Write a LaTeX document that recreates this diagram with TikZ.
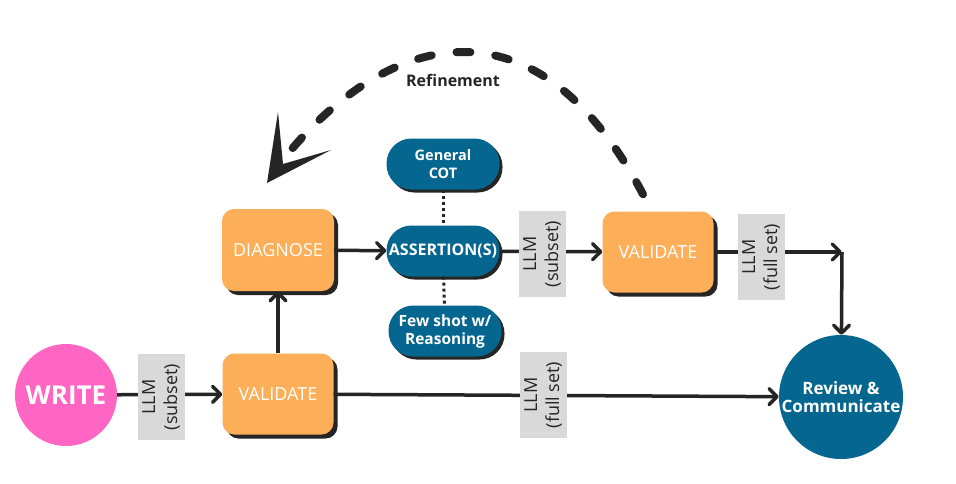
\documentclass[tikz,border=0pt]{standalone}
\usepackage{fontspec}
\setmainfont{Open Sans}
\usetikzlibrary{arrows.meta,shadows}
\definecolor{pnk}{HTML}{FF66C4}
\definecolor{orng}{HTML}{FCAF58}
\definecolor{blu}{HTML}{05668F}
\definecolor{dark}{HTML}{252525}
\definecolor{lgray}{HTML}{D9D9D9}
\begin{document}
\begin{tikzpicture}[x=1pt,y=-1pt,
  shd/.style={drop shadow={shadow xshift=4pt, shadow yshift=-4pt, fill=dark, opacity=1}},
  orangebox/.style={rectangle, rounded corners=12pt, fill=orng, minimum width=111pt, minimum height=81pt, inner sep=2pt, text=white, font=\fontsize{18}{21}\selectfont, shd},
  pill/.style={rectangle, rounded corners=25pt, fill=blu, minimum width=113pt, minimum height=51pt, inner sep=1pt, text=white, align=center, font=\bfseries\fontsize{14.5}{18}\selectfont, drop shadow={shadow xshift=3pt, shadow yshift=-3pt, fill=dark, opacity=1}},
  lbl/.style={rectangle, fill=lgray, rotate=90, minimum width=86pt, minimum height=47pt, inner sep=0pt, align=center, text=dark, font=\fontsize{18}{22}\selectfont},
  arr/.style={draw=dark, line width=3.5pt, -{Straight Barb[length=8pt,width=16pt,round]}},
  dotline/.style={draw=dark, line width=3pt, dash pattern=on 3pt off 3pt},
  refdash/.style={draw=dark, line width=8pt, line cap=round, dash pattern=on 14pt off 25pt}
]
\useasboundingbox[fill=white] (0,0) rectangle (956,483);

% main nodes
\node[circle, fill=pnk, minimum size=102pt, inner sep=0pt, text=white, font=\bfseries\fontsize{26}{30}\selectfont] (write) at (66,395) {WRITE};
\node[orangebox] (val1) at (278,394) {VALIDATE};
\node[orangebox, minimum width=112pt, minimum height=82pt] (diag) at (278,250) {DIAGNOSE};
\node[pill] (gcot) at (443,164) {General\\COT};
\node[pill, font=\bfseries\fontsize{16}{18}\selectfont] (ass) at (443,251) {ASSERTION(S)};
\node[pill, font=\bfseries\fontsize{15.5}{18}\selectfont] (few) at (445,331) {Few shot w/\\Reasoning};
\node[orangebox] (val2) at (658,252) {VALIDATE};
\node[circle, fill=blu, minimum size=124pt, inner sep=0pt, text=white, align=center, font=\bfseries\fontsize{17}{18}\selectfont] (review) at (841,397) {Review \&\\Communicate};
\coordinate (corner) at (842,252);

% connectors
\draw[arr] (write) -- (val1);
\draw[arr] (val1) -- (diag);
\draw[arr] (diag) -- (ass);
\draw[arr] (ass) -- (val2);
\draw[arr] (val2) -- (corner);
\draw[arr] (corner) -- (review);
\draw[arr] (val1) -- (review);
\draw[dotline] (gcot) -- (ass);
\draw[dotline] (ass) -- (few);

% labels on connectors
\node[lbl] (l1) at (161,397) {LLM\\(subset)};
\node[lbl] (l2) at (542,254) {LLM\\(subset)};
\node[lbl] (l3) at (761,257) {LLM\\(full set)};
\node[lbl] (l4) at (543,395) {LLM\\(full set)};

% refinement loop
\coordinate (rend) at (286,156);
\draw[refdash] ([xshift=-15pt,yshift=17pt]val2.north) .. controls (533,-14) and (384,36) .. (rend);
\fill[dark] (267,183) -- (278,112) -- (283,164) -- (331,150) -- cycle;
\node[text=dark, font=\bfseries\fontsize{16}{19}\selectfont] (ref) at (453,80) {Refinement};
\end{tikzpicture}
\end{document}
